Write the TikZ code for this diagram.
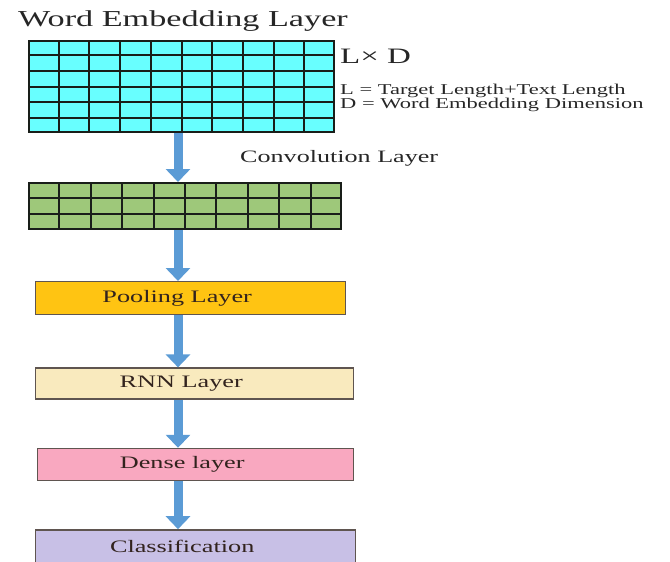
\documentclass[tikz,border=0pt]{standalone}
\usepackage{fontspec}
\setmainfont[FakeStretch=1.5]{Liberation Serif}
\usetikzlibrary{arrows.meta,positioning,calc}
\definecolor{embcyan}{RGB}{104,255,255}
\definecolor{convgreen}{RGB}{158,200,122}
\definecolor{poolorange}{RGB}{255,196,18}
\definecolor{rnnbeige}{RGB}{249,234,190}
\definecolor{densepink}{RGB}{249,168,192}
\definecolor{classlilac}{RGB}{200,192,230}
\definecolor{arrowblue}{RGB}{91,155,213}
\definecolor{gridblack}{RGB}{25,30,25}
\definecolor{boxgray}{RGB}{95,85,80}
\definecolor{textdark}{RGB}{50,35,30}

\begin{document}
\begin{tikzpicture}[x=1pt,y=-1pt,node distance=51pt,
  flow/.style={-{Triangle[width=24pt,length=13pt]},line width=9pt,draw=arrowblue},
  matrixbox/.style={draw=gridblack,line width=2pt,inner sep=0pt,anchor=north west},
  gridline/.style={draw=gridblack,line width=2pt},
  layer/.style={draw=boxgray,line width=1.4pt,inner sep=0pt,minimum height=32pt,anchor=north west,font=\fontsize{17.5}{20}\selectfont,text=textdark,execute at begin node={\hspace*{-27pt}}},
  caption/.style={inner sep=0pt,anchor=west,text=black!85}]

\useasboundingbox (0,0) rectangle (670,562);
\coordinate (axis) at (178,0);

\node[caption,font=\fontsize{22.8}{24}\selectfont] (title) at (18,21) {Word Embedding Layer};
\node[matrixbox,fill=embcyan,minimum width=305pt,minimum height=91pt] (emb) at (28,40) {};
\foreach \i in {1,...,9}
  \draw[gridline] ($(emb.north west)!\i/10!(emb.north east)$) -- ($(emb.south west)!\i/10!(emb.south east)$);
\foreach \j in {1,...,5}
  \draw[gridline] ($(emb.north west)!\j/6!(emb.south west)$) -- ($(emb.north east)!\j/6!(emb.south east)$);

\node[caption,font=\fontsize{22}{24}\selectfont] (dims) at (340,56) {L× D};
\node[caption,font=\fontsize{15}{16}\selectfont] (ldef) at (340,91) {L = Target Length+Text Length};
\node[caption,font=\fontsize{15}{16}\selectfont] (ddef) at (340,105) {D = Word Embedding Dimension};
\node[caption,font=\fontsize{17.4}{20}\selectfont] (convlabel) at (240,158) {Convolution Layer};

\node[matrixbox,fill=convgreen,minimum width=312pt,minimum height=46pt,below=49pt of emb.south west,anchor=north west] (conv) {};
\foreach \i in {1,...,9}
  \draw[gridline] ($(conv.north west)!\i/10!(conv.north east)$) -- ($(conv.south west)!\i/10!(conv.south east)$);
\foreach \j in {1,2}
  \draw[gridline] ($(conv.north west)!\j/3!(conv.south west)$) -- ($(conv.north east)!\j/3!(conv.south east)$);

\node[layer,fill=poolorange,minimum width=310pt,minimum height=33pt,below=51pt of conv.south west,anchor=north west,xshift=7pt] (pool) {Pooling Layer};
\node[layer,fill=rnnbeige,minimum width=318pt,minimum height=31pt,below=52pt of pool.south west,anchor=north west] (rnn) {RNN Layer};
\node[layer,fill=densepink,minimum width=316pt,below=48pt of rnn.south west,anchor=north west,xshift=2pt] (dense) {Dense layer};
\node[layer,fill=classlilac,minimum width=320pt,minimum height=34pt,below=48pt of dense.south west,anchor=north west,xshift=-2pt] (class) {Classification};

\draw[flow] (emb.south -| axis) -- (conv.north -| axis);
\draw[flow] (conv.south -| axis) -- (pool.north -| axis);
\draw[flow] (pool.south -| axis) -- (rnn.north -| axis);
\draw[flow] (rnn.south -| axis) -- (dense.north -| axis);
\draw[flow] (dense.south -| axis) -- (class.north -| axis);

\end{tikzpicture}
\end{document}
